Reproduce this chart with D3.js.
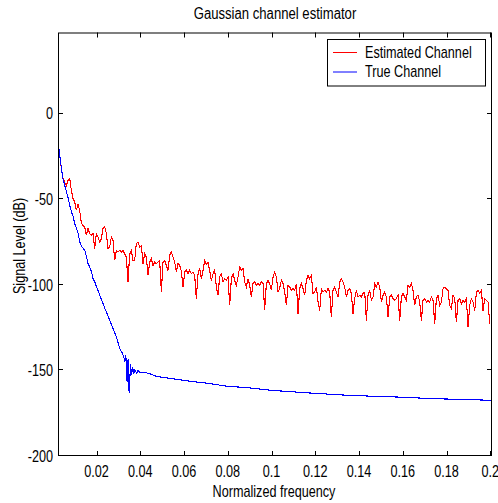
<!DOCTYPE html>
<html>
<head>
<meta charset="utf-8">
<script src="https://cdn.jsdelivr.net/npm/d3@7"></script>
<style>
  body { margin: 0; background: #fff; }
  text { font-family: "Liberation Sans", Arial, sans-serif; fill: #000; }
</style>
</head>
<body>
<div id="chart"></div>
<script>
// estimated channel, sampled on a uniform frequency grid
const redFreqStart = 0.0024;
const redFreqStep = 0.000762;
const estimatedDb = [
  -16.5, -24, -32, -37.7, -40, -42, -39, -37.7, -44.7, -49.4,
  -51.5, -56.4, -53, -56.4, -64, -65.2, -66.2, -71, -67, -70,
  -71, -70, -78.7, -70, -72, -75, -73, -67, -66, -70,
  -78.7, -78, -72, -74, -85.7, -79.8, -80.8, -79.8, -80.8, -79.8,
  -81.8, -83.7, -98, -82, -79.8, -86, -85.7, -75.8, -75, -78,
  -77, -87.6, -81.8, -83.7, -94.4, -86.7, -84.7, -88.6, -86.7, -87.6,
  -86.7, -85.7, -104, -86.7, -85.7, -88.6, -91.5, -82.7, -80.8, -83.7,
  -86.7, -92.5, -87.6, -88.6, -92, -101.3, -92.5, -91.5, -93.5, -91.5,
  -93.5, -92.5, -94.4, -108, -93.5, -90.5, -96.4, -91.5, -85.7, -88,
  -87, -91.5, -97.4, -93.5, -91.5, -101.3, -106, -95, -93.5, -98.3,
  -96.4, -97.4, -95.4, -112, -96.4, -93.5, -97.4, -100.3, -95.4, -89.6,
  -91.5, -90.5, -98.3, -101.3, -96.4, -100.3, -107, -99.3, -98.3, -100.3,
  -99.3, -100.3, -98.3, -99.3, -114.5, -99.3, -97.4, -99.3, -103.2, -95.4,
  -92.5, -95.4, -104.2, -102, -97.4, -99.3, -104, -112, -100.3, -101.3,
  -103.2, -102.2, -103.2, -99.3, -116.8, -102.2, -99.3, -102.2, -106, -97.4,
  -94.4, -96.4, -94.4, -105, -104.2, -101.3, -110, -115, -102.2, -104.2,
  -103.2, -104.2, -102.2, -104.2, -118.8, -103.2, -101.3, -104.2, -107, -98.3,
  -96.4, -98.3, -101.3, -107, -103.2, -102.2, -105, -116.8, -108, -103.2,
  -107, -106, -107, -105, -104.2, -120.8, -106, -103.2, -109, -107,
  -99.3, -101.3, -98.3, -101.3, -110, -106, -104.2, -107, -118.8, -107,
  -106, -108, -109, -108, -106, -120.8, -107, -105, -107, -109,
  -100.3, -101.3, -99.3, -103.2, -112, -107, -106, -110, -120.8, -109,
  -108, -110, -109, -110, -107, -109, -122.7, -108, -106, -112,
  -110, -102.2, -101.3, -102.2, -103.2, -112, -114, -106, -108, -121.8,
  -109, -108, -111, -109, -110, -108, -124.7, -112, -108, -110,
  -115, -104.2, -103.2, -105, -103.2, -115, -108, -109, -110, -122.7,
];

// true channel
const trueFreq = [
  0.00243, 0.0032, 0.00398, 0.00471, 0.00549, 0.00627, 0.007, 0.00778, 0.00856, 0.00929,
  0.01007, 0.01085, 0.01158, 0.01236, 0.01314, 0.01465, 0.01542, 0.01616, 0.01693, 0.01771,
  0.01844, 0.01922, 0.02151, 0.0238, 0.02609, 0.02915, 0.03066, 0.0319, 0.03249, 0.03295,
  0.03341, 0.034, 0.03446, 0.03492, 0.03556, 0.03602, 0.03648, 0.03707, 0.03753, 0.03831,
  0.03904, 0.03982, 0.04133, 0.04439, 0.04746, 0.05506, 0.0627, 0.07034, 0.0795, 0.09016,
  0.10069, 0.119, 0.13593, 0.15881, 0.17391, 0.19222, 0.20078,
];
const trueDb = [
  -16.5, -24.3, -31.9, -38.3, -41.8, -45.7, -49.1, -53.5, -57.4, -59.9,
  -64.2, -67.1, -69.9, -75, -77.5, -79.8, -83.7, -87.6, -89.6, -92.5,
  -96.4, -98.4, -106.1, -113.7, -120.8, -130.5, -137.3, -140.2, -142.2, -145.1,
  -141.2, -156.8, -143.2, -163.3, -146.1, -152.9, -148.1, -151.9, -149.6, -151.6,
  -150, -151, -151, -151.9, -153.5, -154.9, -156.3, -157.4, -159.2, -160.2,
  -161.7, -163.3, -164.6, -165.6, -166.5, -167.1, -167.5,
];

const xTicks = [0.02, 0.04, 0.06, 0.08, 0.1, 0.12, 0.14, 0.16, 0.18, 0.2];
const yTicks = [-200, -150, -100, -50, 0];
const seriesNames = ['Estimated Channel', 'True Channel'];
const seriesColors = ['#ff0000', '#0000ff'];

const WIDTH = 498;
const HEIGHT = 503;
const PLOT = { LEFT: 58, RIGHT: 492, TOP: 32.5, BOTTOM: 456 };
const SQUEEZE = 0.79; // the reference glyphs are narrow and tall
const TICK = 5;

const svg = d3.select('#chart')
  .append('svg')
  .attr('width', WIDTH)
  .attr('height', HEIGHT);

const x = d3.scaleLinear([0.0024, 0.2008], [PLOT.LEFT, PLOT.RIGHT]);
const y = d3.scaleLinear([-200, 47.5], [PLOT.BOTTOM, PLOT.TOP]);

const addText = (g, px, py, str, anchor, sx, rotate = false) =>
  g.append('text')
    .attr('transform', `translate(${px},${py})${rotate ? ' rotate(-90)' : ''} scale(${sx},1)`)
    .attr('text-anchor', anchor)
    .style('font-size', '16px')
    .text(str);

// lines, drawn aliased like the original screen capture
svg.append('clipPath').attr('id', 'plot-clip')
  .append('rect')
  .attr('x', PLOT.LEFT).attr('y', PLOT.TOP)
  .attr('width', PLOT.RIGHT - PLOT.LEFT).attr('height', PLOT.BOTTOM - PLOT.TOP);

const line = d3.line().x((d) => x(d[0])).y((d) => y(d[1]));
const estimated = estimatedDb.map((v, i) => [redFreqStart + i * redFreqStep, v]);
const truth = trueFreq.map((f, i) => [f, trueDb[i]]);

const lines = svg.append('g').attr('clip-path', 'url(#plot-clip)');
[estimated, truth].forEach((data, i) => {
  lines.append('path')
    .datum(data)
    .attr('fill', 'none')
    .attr('stroke', seriesColors[i])
    .attr('stroke-width', 1.1)
    .attr('shape-rendering', 'crispEdges')
    .attr('d', line);
});

// frame with inward ticks on all four sides
const frame = svg.append('g').attr('stroke', '#000').attr('stroke-width', 1).attr('fill', 'none');
frame.append('rect')
  .attr('x', PLOT.LEFT + 0.5).attr('y', PLOT.TOP + 0.5)
  .attr('width', PLOT.RIGHT - PLOT.LEFT - 1).attr('height', PLOT.BOTTOM - PLOT.TOP - 1);

xTicks.forEach((t) => {
  const px = Math.round(x(t)) + 0.5;
  frame.append('line').attr('x1', px).attr('x2', px).attr('y1', PLOT.BOTTOM).attr('y2', PLOT.BOTTOM - TICK);
  frame.append('line').attr('x1', px).attr('x2', px).attr('y1', PLOT.TOP).attr('y2', PLOT.TOP + TICK);
  addText(svg, x(t), 476.7, String(t), 'middle', SQUEEZE);
});

yTicks.forEach((t) => {
  const py = Math.round(y(t)) - 0.5;
  frame.append('line').attr('x1', PLOT.LEFT).attr('x2', PLOT.LEFT + TICK).attr('y1', py).attr('y2', py);
  frame.append('line').attr('x1', PLOT.RIGHT).attr('x2', PLOT.RIGHT - TICK).attr('y1', py).attr('y2', py);
  addText(svg, 53, y(t) + 5.7, String(t), 'end', SQUEEZE);
});

// titles
addText(svg, 275, 19, 'Gaussian channel estimator', 'middle', 0.82);
addText(svg, 274, 497, 'Normalized frequency', 'middle', SQUEEZE);
addText(svg, 25, 246, 'Signal Level (dB)', 'middle', SQUEEZE, true);

// legend
const legend = svg.append('g');
legend.append('rect')
  .attr('x', 327.5).attr('y', 39.5)
  .attr('width', 158).attr('height', 46.5)
  .attr('fill', '#fff').attr('stroke', '#000');
seriesNames.forEach((name, i) => {
  const ly = 52.5 + i * 19.5;
  legend.append('line')
    .attr('x1', 333).attr('x2', 357).attr('y1', ly).attr('y2', ly)
    .attr('stroke', seriesColors[i]);
  addText(legend, 365, ly + 5.2, name, 'start', SQUEEZE);
});
</script>
</body>
</html>
